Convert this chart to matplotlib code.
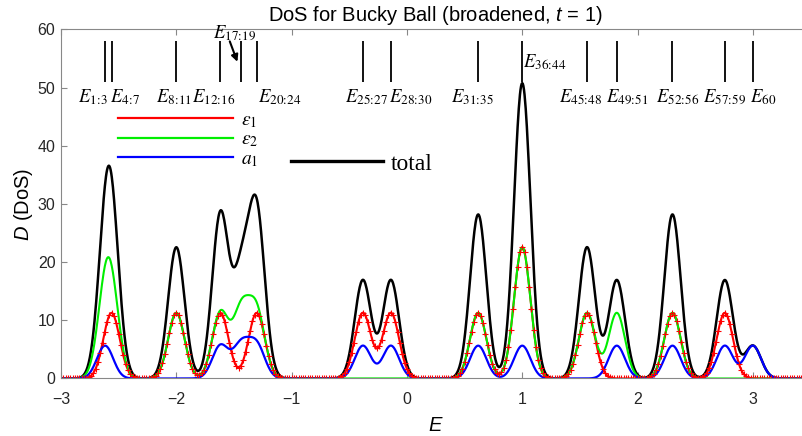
import numpy as np
import matplotlib
matplotlib.use('Agg')
import matplotlib.pyplot as plt
from matplotlib.lines import Line2D

# C60 (t = 1) energy levels and how each splits into C5 irreps (state counts)
levels = [-2.618, -2.562, -2.0, -1.618, -1.438, -1.303, -0.382, -0.139,
          0.618, 1.0, 1.562, 1.820, 2.303, 2.757, 3.0]
n_a1 = [1, 0, 0, 1, 1, 1, 1, 1, 1, 1, 0, 1, 1, 1, 1]
n_e1 = [0, 2, 2, 2, 0, 2, 2, 2, 2, 4, 2, 0, 2, 2, 0]
n_e2 = [2, 2, 2, 2, 2, 2, 0, 0, 2, 4, 2, 2, 2, 0, 0]
level_names = ['1:3', '4:7', '8:11', '12:16', '17:19', '20:24', '25:27', '28:30',
               '31:35', '36:44', '45:48', '49:51', '52:56', '57:59', '60']
eta = 0.1  # broadening

# label positions (x in data units), layout only
label_x = [-2.727, -2.441, -2.024, -1.673, -1.491, -1.101, -0.346, 0.036,
           0.565, 1.007, 1.51, 1.909, 2.353, 2.759, 3.088]

plt.rcParams['font.family'] = ['Liberation Sans', 'DejaVu Sans']
plt.rcParams['mathtext.fontset'] = 'custom'
plt.rcParams['mathtext.rm'] = 'Liberation Sans'
plt.rcParams['mathtext.it'] = 'Liberation Sans:italic'


def broaden(E, lev, counts):
    dos = np.zeros_like(E)
    for e, n in zip(lev, counts):
        dos += n * np.exp(-((E - e) / eta) ** 2) / (eta * np.sqrt(np.pi))
    return dos


E = np.linspace(-3, 3.5, 1301)
d_a1 = broaden(E, levels, n_a1)
d_e1 = broaden(E, levels, n_e1)
d_e2 = broaden(E, levels, n_e2)
total = d_a1 + d_e1 + d_e2

fig = plt.figure(figsize=(8.02, 4.36), dpi=100)
ax = fig.add_axes([0.0761, 0.1319, 0.9345, 0.8005])

ax.plot(E, total, color='k', lw=1.8)
ax.plot(E, d_e1, color='#ff0000', lw=1.5)
ax.plot(E, d_e2, color='#00ee00', lw=1.5)
ax.plot(E, d_a1, color='#0000ff', lw=1.6)
ax.plot(E, d_e1, ls='none', color='#ff0000', marker='+', markevery=4,
        markersize=5, markeredgewidth=0.8)

# energy level markers
ax.vlines(levels, 51, 58, color='k', lw=1.3)
for name, x in zip(level_names, label_x):
    lab = '$E_{%s}$' % name.replace(':', r'\!:\!')
    if name == '17:19':
        ax.text(x, 59.4, lab, ha='center', va='center',
                fontsize=13.5, math_fontfamily='stix', clip_on=False)
    elif name == '36:44':
        ax.text(x, 54.3, lab, ha='left', va='center',
                fontsize=13.5, math_fontfamily='stix')
    else:
        ax.text(x, 48.3, lab, ha='center', va='center',
                fontsize=13.5, math_fontfamily='stix')
ax.annotate('', xy=(-1.462, 54.0), xytext=(-1.545, 58.4),
            arrowprops=dict(arrowstyle='-|>', lw=1.5, color='k', mutation_scale=10))

h1 = [Line2D([], [], color='#ff0000', lw=1.6),
      Line2D([], [], color='#00ee00', lw=1.6),
      Line2D([], [], color='#0000ff', lw=1.6)]
leg1 = ax.legend(h1, [r'$\epsilon_1$', r'$\epsilon_2$', r'$a_1$'],
                 loc='center left', bbox_to_anchor=(0.076, 0.683),
                 frameon=False, borderpad=0, borderaxespad=0,
                 handlelength=5.9, handletextpad=0.45, labelspacing=0.05,
                 prop={'size': 14}, bbox_transform=ax.transAxes)
for t in leg1.get_texts():
    t.set_math_fontfamily('stix')
ax.add_artist(leg1)
ax.legend([Line2D([], [], color='k', lw=2.4)], ['total'],
          loc='center left', bbox_to_anchor=(0.307, 0.615),
          frameon=False, borderpad=0, borderaxespad=0,
          handlelength=3.9, handletextpad=0.34,
          prop={'family': 'Liberation Serif', 'size': 17},
          bbox_transform=ax.transAxes)

ax.set_xlim(-3, 3.5)
ax.set_ylim(0, 60)
ax.set_xticks([-3, -2, -1, 0, 1, 2, 3])
ax.set_yticks([0, 10, 20, 30, 40, 50, 60])
ax.tick_params(direction='in', length=4, width=0.8, top=True, right=True,
               labelsize=11.5, colors='#888888', labelcolor='#262626')
ax.tick_params(axis='x', pad=10)
ax.tick_params(axis='y', pad=4)
for s in ax.spines.values():
    s.set_color('#888888')
    s.set_linewidth(0.8)

ax.set_xlabel('$E$', fontsize=14.5, labelpad=6)
ax.set_ylabel('$D$ (DoS)', fontsize=14.5, labelpad=2)
ax.set_title('DoS for Bucky Ball (broadened, $t$ = 1)', fontsize=14.5, pad=6)

fig.savefig('out.png', dpi=100)
